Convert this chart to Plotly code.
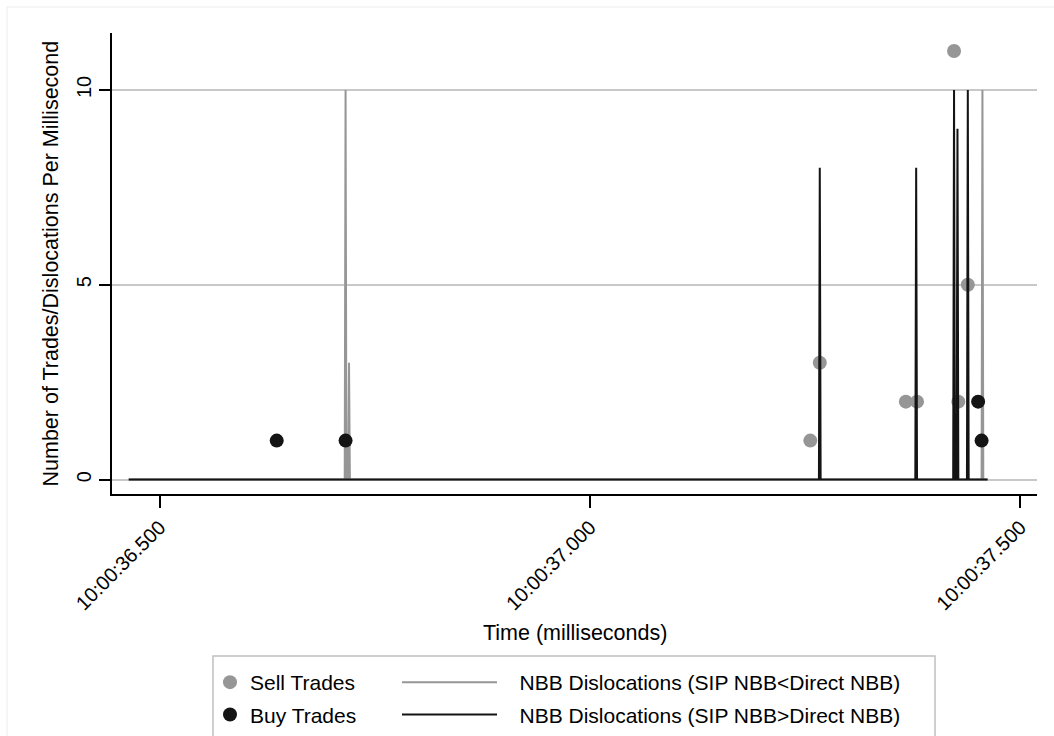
import plotly.graph_objects as go

DAY = "2012-05-01 "

# Trades (time, count per millisecond)
sell_time = ["10:00:37.256", "10:00:37.267", "10:00:37.367", "10:00:37.380",
             "10:00:37.423", "10:00:37.428", "10:00:37.439"]
sell_n = [1, 3, 2, 2, 11, 2, 5]

buy_time = ["10:00:36.636", "10:00:36.716", "10:00:37.451", "10:00:37.455"]
buy_n = [1, 1, 2, 1]

# NBB dislocations per millisecond (SIP NBB < Direct NBB)
low_time = ["10:00:36.464", "10:00:36.715", "10:00:36.716", "10:00:36.717",
            "10:00:36.719", "10:00:36.720", "10:00:36.721",
            "10:00:37.455", "10:00:37.456", "10:00:37.457", "10:00:37.462"]
low_n = [0, 0, 10, 0, 0, 3, 0, 0, 10, 0, 0]

# NBB dislocations per millisecond (SIP NBB > Direct NBB)
high_time = ["10:00:36.464", "10:00:37.266", "10:00:37.267", "10:00:37.268",
             "10:00:37.378", "10:00:37.379", "10:00:37.380",
             "10:00:37.422", "10:00:37.423", "10:00:37.424",
             "10:00:37.426", "10:00:37.427", "10:00:37.428",
             "10:00:37.438", "10:00:37.439", "10:00:37.440", "10:00:37.462"]
high_n = [0, 0, 8, 0, 0, 8, 0, 0, 10, 0, 0, 9, 0, 0, 10, 0, 0]

tick_time = ["10:00:36.500", "10:00:37.000", "10:00:37.500"]
y_ticks = [0, 5, 10]

Y_TITLE = "Number of Trades/Dislocations Per Millisecond"
X_TITLE = "Time (milliseconds)"

FONT = "Liberation Sans, Arial, Helvetica, sans-serif"
GRAY = "#969696"
BLACK = "#141414"
PAD = "\u00a0\u00a0\u00a0"

def d(ts):
    return [DAY + t for t in ts]

fig = go.Figure()
fig.add_trace(go.Scatter(x=d(sell_time), y=sell_n, mode="markers", name="Sell Trades",
                         marker=dict(color=GRAY, size=14, line=dict(width=0)),
                         legend="legend", legendgroup="a"))
fig.add_trace(go.Scatter(x=d(low_time), y=low_n, mode="lines",
                         name=PAD + "NBB Dislocations (SIP NBB<Direct NBB)",
                         line=dict(color=GRAY, width=2),
                         legend="legend2", legendgroup="c"))
fig.add_trace(go.Scatter(x=d(high_time), y=high_n, mode="lines",
                         name=PAD + "NBB Dislocations (SIP NBB>Direct NBB)",
                         line=dict(color=BLACK, width=2),
                         legend="legend2", legendgroup="d"))
fig.add_trace(go.Scatter(x=d(buy_time), y=buy_n, mode="markers", name="Buy Trades",
                         marker=dict(color=BLACK, size=14, line=dict(width=0)),
                         legend="legend", legendgroup="b"))

L, R, T, B = 112, 17, 33, 242
W, H = 1054, 736
pw, ph = W - L - R, H - T - B

def px(xp):
    return (xp - L) / pw

def py(yp):
    return (H - B - yp) / ph

LEG_FONT = 21
fig.update_layout(
    width=W, height=H, autosize=False,
    margin=dict(l=L, r=R, t=T, b=B, autoexpand=False),
    paper_bgcolor="white", plot_bgcolor="white",
    font=dict(family=FONT, size=21, color="black"),
    showlegend=True,
    legend=dict(x=210 / W, y=1 - 662 / H, xref="container", yref="container",
                xanchor="left", yanchor="top",
                orientation="v", bgcolor="rgba(0,0,0,0)", borderwidth=0,
                tracegroupgap=2, font=dict(size=LEG_FONT), traceorder="grouped"),
    legend2=dict(x=397 / W, y=1 - 662 / H, xref="container", yref="container",
                 xanchor="left", yanchor="top",
                 orientation="v", bgcolor="rgba(0,0,0,0)", borderwidth=0,
                 tracegroupgap=2, itemwidth=95, font=dict(size=LEG_FONT),
                 traceorder="grouped"),
    xaxis=dict(
        type="date", automargin=False,
        range=[DAY + "10:00:36.4446", DAY + "10:00:37.5194"],
        tickvals=d(tick_time), ticktext=tick_time,
        tickangle=-45, ticks="outside", ticklen=12, tickwidth=1.5, tickcolor="black",
        showgrid=False, zeroline=False,
        showline=True, linecolor="black", linewidth=1.5,
        tickfont=dict(size=20),
    ),
    yaxis=dict(
        automargin=False,
        range=[-0.37, 11.46],
        tickvals=y_ticks, tickangle=-90,
        ticks="outside", ticklen=11, tickwidth=1.5, tickcolor="black",
        showgrid=True, gridcolor="#c8c8c8", gridwidth=2,
        zeroline=False,
        showline=True, linecolor="black", linewidth=1.5,
        tickfont=dict(size=20),
    ),
    annotations=[
        dict(text=Y_TITLE, textangle=-90, xref="paper", yref="paper",
             x=px(50), y=0.5, xanchor="center", yanchor="middle",
             showarrow=False, font=dict(size=21.5)),
        dict(text=X_TITLE, xref="paper", yref="paper",
             x=0.5, y=py(633), xanchor="center", yanchor="middle",
             showarrow=False, font=dict(size=21.5)),
    ],
    shapes=[
        # legend frame
        dict(type="rect", xref="paper", yref="paper",
             x0=px(213), x1=px(935), y0=py(656), y1=py(745),
             line=dict(color="#c0c0c0", width=1.5), fillcolor="rgba(0,0,0,0)",
             layer="below"),
        # outer graph frame (left and top edges)
        dict(type="line", xref="paper", yref="paper",
             x0=px(7), x1=px(7), y0=py(7), y1=py(745),
             line=dict(color="#ececec", width=1)),
        dict(type="line", xref="paper", yref="paper",
             x0=px(7), x1=px(1060), y0=py(7), y1=py(7),
             line=dict(color="#ececec", width=1)),
    ],
)

fig.write_html("out.html",
               config={"displayModeBar": False},
               post_script="document.body.style.margin='0px';"
                           "document.body.style.overflow='hidden';")
